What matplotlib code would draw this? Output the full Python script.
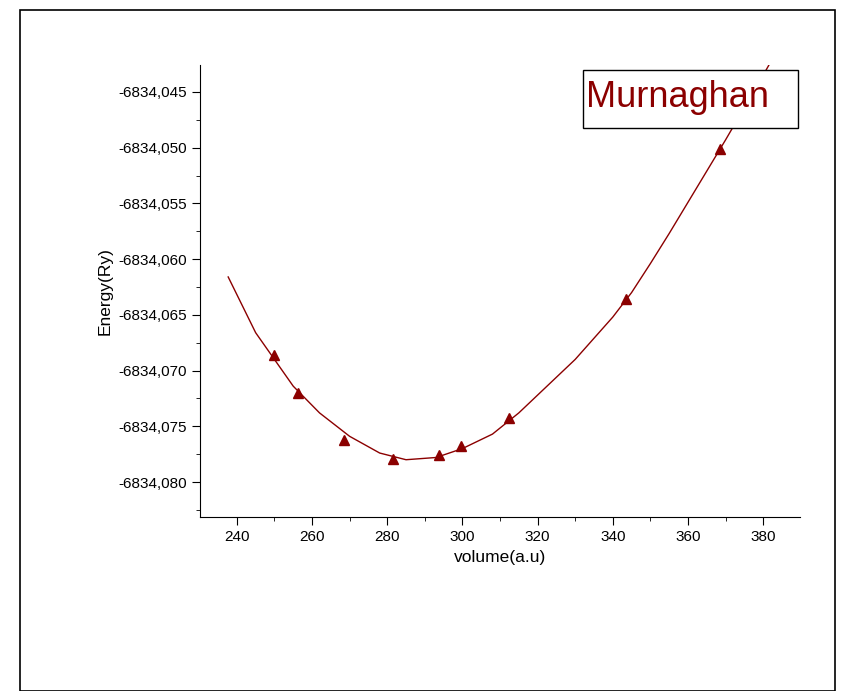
import matplotlib
matplotlib.use("Agg")
import matplotlib.pyplot as plt
from matplotlib.ticker import FuncFormatter, MultipleLocator
from matplotlib.patches import Rectangle

plt.rcParams['font.family'] = ['Liberation Sans', 'DejaVu Sans']

base = -6834.0
vol_pts = [249.9, 256.3, 268.5, 281.6, 293.8, 299.7, 312.4, 343.6, 368.6]
e_pts = [-0.0686, -0.0720, -0.0762, -0.0779, -0.0776, -0.0768, -0.0743, -0.0636, -0.0501]
vol_fit = [237.7, 245, 250, 255, 262, 270, 278, 285, 293, 300, 308, 315, 320, 330, 340,
           345, 350, 355, 360, 365, 370, 375, 380, 382]
e_fit = [-0.0616, -0.0666, -0.0690, -0.0714, -0.0738, -0.0759, -0.0774, -0.0780, -0.0778,
         -0.0770, -0.0757, -0.0738, -0.0722, -0.0690, -0.0652, -0.0630, -0.0604, -0.0577,
         -0.0549, -0.0521, -0.0493, -0.0464, -0.0435, -0.0423]

col = '#8B0000'
fig = plt.figure(figsize=(8.55, 6.91), dpi=100)
fig.patches.append(Rectangle((20/855, 0), 815/855, 681/691, transform=fig.transFigure,
                             fill=False, edgecolor='black', lw=1.2))
ax = fig.add_axes([200/855, 1-517/691, 600/855, 452/691])
ax.plot(vol_fit, [base + v for v in e_fit], color=col, lw=1)
ax.plot(vol_pts, [base + v for v in e_pts], '^', color=col, ms=7, ls='none')
ax.set_xlim(230.2, 389.8)
ax.set_ylim(base - 0.08314, base - 0.04258)
ax.spines['top'].set_visible(False)
ax.spines['right'].set_visible(False)
ax.xaxis.set_major_locator(MultipleLocator(20))
ax.xaxis.set_minor_locator(MultipleLocator(10))
ax.yaxis.set_major_locator(MultipleLocator(0.005))
ax.yaxis.set_minor_locator(MultipleLocator(0.0025))
ax.yaxis.set_major_formatter(FuncFormatter(lambda v, p: f"{v:.3f}".replace('.', ',')))
ax.tick_params(direction='out', labelsize=11)
ax.tick_params(which='major', length=6)
ax.tick_params(which='minor', length=3)
ax.set_xlabel('volume(a.u)', fontsize=12.5)
ax.set_ylabel('Energy(Ry)', fontsize=12.5)
ax.add_patch(Rectangle((0.638, 0.861), 0.359, 0.128, transform=ax.transAxes,
                       fill=True, fc='white', ec='black', lw=1, clip_on=False, zorder=5))
ax.text(0.643, 0.927, 'Murnaghan', transform=ax.transAxes, fontsize=26, color=col,
        va='center', ha='left', zorder=6)
fig.savefig('out.png', dpi=100)
